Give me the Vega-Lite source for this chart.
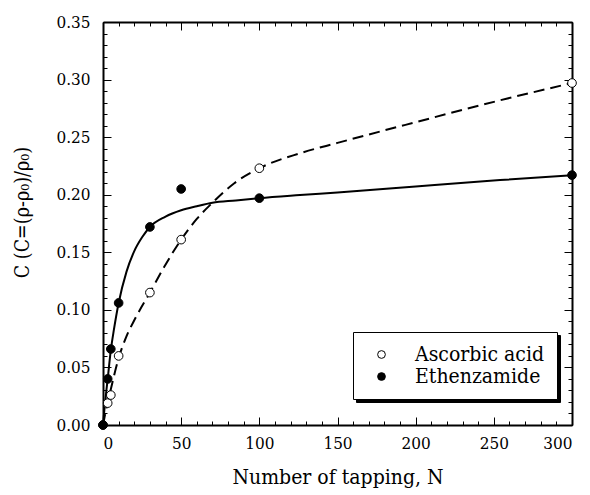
{
  "$schema": "https://vega.github.io/schema/vega-lite/v6.json",
  "width": 469,
  "height": 403,
  "autosize": {"type": "none"},
  "padding": {"left": 103, "top": 22, "right": 18, "bottom": 70},
  "background": "white",
  "datasets": {
    "curves": [
      {"N": 0, "C": 0, "series": "Ascorbic acid"},
      {"N": 1, "C": 0.007, "series": "Ascorbic acid"},
      {"N": 3, "C": 0.019, "series": "Ascorbic acid"},
      {"N": 5, "C": 0.031, "series": "Ascorbic acid"},
      {"N": 10, "C": 0.058, "series": "Ascorbic acid"},
      {"N": 15, "C": 0.077, "series": "Ascorbic acid"},
      {"N": 20, "C": 0.091, "series": "Ascorbic acid"},
      {"N": 30, "C": 0.115, "series": "Ascorbic acid"},
      {"N": 39, "C": 0.137, "series": "Ascorbic acid"},
      {"N": 50, "C": 0.161, "series": "Ascorbic acid"},
      {"N": 60, "C": 0.179, "series": "Ascorbic acid"},
      {"N": 70, "C": 0.193, "series": "Ascorbic acid"},
      {"N": 84, "C": 0.21, "series": "Ascorbic acid"},
      {"N": 100, "C": 0.223, "series": "Ascorbic acid"},
      {"N": 126, "C": 0.236, "series": "Ascorbic acid"},
      {"N": 150, "C": 0.245, "series": "Ascorbic acid"},
      {"N": 200, "C": 0.263, "series": "Ascorbic acid"},
      {"N": 254, "C": 0.282, "series": "Ascorbic acid"},
      {"N": 300, "C": 0.297, "series": "Ascorbic acid"},
      {"N": 0, "C": 0, "series": "Ethenzamide"},
      {"N": 1, "C": 0.015, "series": "Ethenzamide"},
      {"N": 2, "C": 0.028, "series": "Ethenzamide"},
      {"N": 3, "C": 0.04, "series": "Ethenzamide"},
      {"N": 5, "C": 0.065, "series": "Ethenzamide"},
      {"N": 7, "C": 0.083, "series": "Ethenzamide"},
      {"N": 10, "C": 0.106, "series": "Ethenzamide"},
      {"N": 15, "C": 0.133, "series": "Ethenzamide"},
      {"N": 20, "C": 0.151, "series": "Ethenzamide"},
      {"N": 25, "C": 0.163, "series": "Ethenzamide"},
      {"N": 30, "C": 0.172, "series": "Ethenzamide"},
      {"N": 40, "C": 0.181, "series": "Ethenzamide"},
      {"N": 50, "C": 0.1865, "series": "Ethenzamide"},
      {"N": 60, "C": 0.19, "series": "Ethenzamide"},
      {"N": 70, "C": 0.193, "series": "Ethenzamide"},
      {"N": 85, "C": 0.195, "series": "Ethenzamide"},
      {"N": 100, "C": 0.197, "series": "Ethenzamide"},
      {"N": 126, "C": 0.1997, "series": "Ethenzamide"},
      {"N": 150, "C": 0.202, "series": "Ethenzamide"},
      {"N": 200, "C": 0.2072, "series": "Ethenzamide"},
      {"N": 254, "C": 0.2127, "series": "Ethenzamide"},
      {"N": 300, "C": 0.217, "series": "Ethenzamide"}
    ],
    "points": [
      {"N": 0, "C": 0, "series": "Ascorbic acid"},
      {"N": 3, "C": 0.019, "series": "Ascorbic acid"},
      {"N": 5, "C": 0.026, "series": "Ascorbic acid"},
      {"N": 10, "C": 0.06, "series": "Ascorbic acid"},
      {"N": 30, "C": 0.115, "series": "Ascorbic acid"},
      {"N": 50, "C": 0.161, "series": "Ascorbic acid"},
      {"N": 100, "C": 0.223, "series": "Ascorbic acid"},
      {"N": 300, "C": 0.297, "series": "Ascorbic acid"},
      {"N": 0, "C": 0, "series": "Ethenzamide"},
      {"N": 3, "C": 0.04, "series": "Ethenzamide"},
      {"N": 5, "C": 0.066, "series": "Ethenzamide"},
      {"N": 10, "C": 0.106, "series": "Ethenzamide"},
      {"N": 30, "C": 0.172, "series": "Ethenzamide"},
      {"N": 50, "C": 0.205, "series": "Ethenzamide"},
      {"N": 100, "C": 0.197, "series": "Ethenzamide"},
      {"N": 300, "C": 0.217, "series": "Ethenzamide"}
    ]
  },
  "resolve": {"axis": {"x": "independent", "y": "independent"}},
  "layer": [
    {
      "data": {"name": "curves"},
      "transform": [{"filter": "datum.series === 'Ascorbic acid'"}],
      "mark": {"type": "line", "interpolate": "monotone", "color": "black", "strokeWidth": 2, "strokeDash": [11, 6]},
      "encoding": {
        "x": {"field": "N", "type": "quantitative", "scale": {"domain": [0, 300], "nice": false},
          "axis": {"orient": "bottom", "values": [0, 50, 100, 150, 200, 250, 300], "format": "d", "tickSize": -8, "labelPadding": 18,
            "title": "Number of tapping, N", "titleFontSize": 21, "titleY": 58, "titleBaseline": "alphabetic"}},
        "y": {"field": "C", "type": "quantitative", "scale": {"domain": [0, 0.35], "nice": false},
          "axis": {"orient": "left", "values": [0, 0.05, 0.1, 0.15, 0.2, 0.25, 0.3, 0.35], "format": ".2f", "tickSize": -8, "labelPadding": 21,
            "title": "C (C=(ρ-ρ₀)/ρ₀)", "titleFontSize": 19.5, "titleX": -75, "titleY": 190, "titleAngle": -90, "titleAlign": "center", "titleBaseline": "alphabetic"}}
      }
    },
    {
      "data": {"name": "curves"},
      "transform": [{"filter": "datum.series === 'Ethenzamide'"}],
      "mark": {"type": "line", "interpolate": "monotone", "color": "black", "strokeWidth": 2},
      "encoding": {
        "x": {"field": "N", "type": "quantitative", "scale": {"domain": [0, 300], "nice": false},
          "axis": {"orient": "bottom", "values": [0,10,20,30,40,50,60,70,80,90,100,110,120,130,140,150,160,170,180,190,200,210,220,230,240,250,260,270,280,290,300], "tickSize": -4, "labels": false, "domain": false, "title": null}},
        "y": {"field": "C", "type": "quantitative", "scale": {"domain": [0, 0.35], "nice": false},
          "axis": {"orient": "left", "values": [0,0.01,0.02,0.03,0.04,0.05,0.06,0.07,0.08,0.09,0.1,0.11,0.12,0.13,0.14,0.15,0.16,0.17,0.18,0.19,0.2,0.21,0.22,0.23,0.24,0.25,0.26,0.27,0.28,0.29,0.3,0.31,0.32,0.33,0.34,0.35], "tickSize": -4, "labels": false, "domain": false, "title": null}}
      }
    },
    {
      "data": {"name": "points"},
      "transform": [{"filter": "datum.series === 'Ascorbic acid'"}],
      "mark": {"type": "point", "shape": "circle", "filled": true, "opacity": 1, "size": 75, "stroke": "black", "strokeWidth": 1},
      "encoding": {
        "x": {"field": "N", "type": "quantitative", "scale": {"domain": [0, 300], "nice": false},
          "axis": {"orient": "top", "values": [0, 50, 100, 150, 200, 250, 300], "tickSize": -8, "labels": false, "title": null}},
        "y": {"field": "C", "type": "quantitative", "scale": {"domain": [0, 0.35], "nice": false},
          "axis": {"orient": "right", "values": [0, 0.05, 0.1, 0.15, 0.2, 0.25, 0.3, 0.35], "tickSize": -8, "labels": false, "title": null}},
        "fill": {"field": "series", "type": "nominal", "scale": {"domain": ["Ascorbic acid", "Ethenzamide"], "range": ["white", "black"]},
          "legend": {"title": null, "orient": "none", "legendX": 250, "legendY": 310, "zindex": 2, "fillColor": "white", "strokeColor": "black",
            "padding": 12, "rowPadding": 0, "symbolOffset": 6, "labelOffset": 23, "symbolSize": 60, "symbolStrokeColor": "black", "symbolStrokeWidth": 1,
            "labelFont": "DejaVu Serif Condensed", "labelFontSize": 21, "labelColor": "black"}},
        "shape": {"field": "series", "type": "nominal", "scale": {"range": ["circle", "circle"]},
          "legend": {"title": null, "orient": "none", "legendX": 253, "legendY": 313, "zindex": 1, "fillColor": "black", "strokeColor": "black",
            "padding": 12, "rowPadding": 0, "symbolOffset": 6, "labelOffset": 23, "symbolSize": 60, "symbolFillColor": "black", "symbolStrokeColor": "black", "symbolStrokeWidth": 1,
            "labelFont": "DejaVu Serif Condensed", "labelFontSize": 21, "labelColor": "black"}}
      }
    },
    {
      "data": {"name": "points"},
      "transform": [{"filter": "datum.series === 'Ethenzamide'"}],
      "mark": {"type": "point", "shape": "circle", "filled": true, "opacity": 1, "size": 75, "stroke": "black", "strokeWidth": 1},
      "encoding": {
        "x": {"field": "N", "type": "quantitative", "scale": {"domain": [0, 300], "nice": false},
          "axis": {"orient": "top", "values": [0,10,20,30,40,50,60,70,80,90,100,110,120,130,140,150,160,170,180,190,200,210,220,230,240,250,260,270,280,290,300], "tickSize": -4, "labels": false, "domain": false, "title": null}},
        "y": {"field": "C", "type": "quantitative", "scale": {"domain": [0, 0.35], "nice": false},
          "axis": {"orient": "right", "values": [0,0.01,0.02,0.03,0.04,0.05,0.06,0.07,0.08,0.09,0.1,0.11,0.12,0.13,0.14,0.15,0.16,0.17,0.18,0.19,0.2,0.21,0.22,0.23,0.24,0.25,0.26,0.27,0.28,0.29,0.3,0.31,0.32,0.33,0.34,0.35], "tickSize": -4, "labels": false, "domain": false, "title": null}},
        "fill": {"field": "series", "type": "nominal", "scale": {"domain": ["Ascorbic acid", "Ethenzamide"], "range": ["white", "black"]},
          "legend": {"title": null, "orient": "none", "legendX": 250, "legendY": 310, "zindex": 2, "fillColor": "white", "strokeColor": "black",
            "padding": 12, "rowPadding": 0, "symbolOffset": 6, "labelOffset": 23, "symbolSize": 60, "symbolStrokeColor": "black", "symbolStrokeWidth": 1,
            "labelFont": "DejaVu Serif Condensed", "labelFontSize": 21, "labelColor": "black"}},
        "shape": {"field": "series", "type": "nominal", "scale": {"range": ["circle", "circle"]},
          "legend": {"title": null, "orient": "none", "legendX": 253, "legendY": 313, "zindex": 1, "fillColor": "black", "strokeColor": "black",
            "padding": 12, "rowPadding": 0, "symbolOffset": 6, "labelOffset": 23, "symbolSize": 60, "symbolFillColor": "black", "symbolStrokeColor": "black", "symbolStrokeWidth": 1,
            "labelFont": "DejaVu Serif Condensed", "labelFontSize": 21, "labelColor": "black"}}
      }
    }
  ],
  "config": {
    "view": {"stroke": null},
    "font": "DejaVu Serif Condensed",
    "axis": {
      "grid": false,
      "domainColor": "black",
      "domainWidth": 2,
      "tickColor": "black",
      "tickWidth": 1,
      "labelFont": "DejaVu Serif Condensed",
      "labelFontSize": 17,
      "labelColor": "black",
      "titleFont": "DejaVu Serif Condensed",
      "titleFontSize": 21,
      "titleFontWeight": "normal",
      "titleColor": "black"
    }
  }
}
